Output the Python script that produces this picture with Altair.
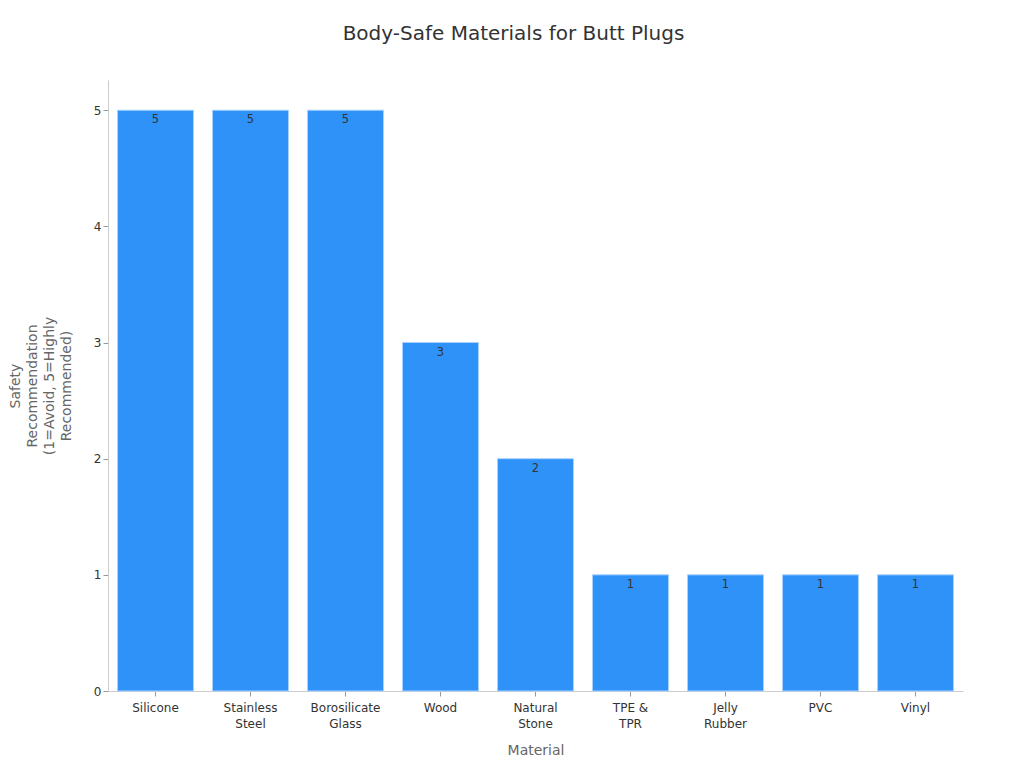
import altair as alt
import pandas as pd

materials = ["Silicone", "Stainless Steel", "Borosilicate Glass", "Wood", "Natural Stone",
             "TPE & TPR", "Jelly Rubber", "PVC", "Vinyl"]
scores = [5, 5, 5, 3, 2, 1, 1, 1, 1]

df = pd.DataFrame({"Material": materials, "Score": scores})

FONT = "DejaVu Sans"

label_expr = ("datum.label == 'TPE & TPR' ? ['TPE &', 'TPR'] : "
              "(indexof(datum.label, ' ') > 0 ? split(datum.label, ' ') : datum.label)")

x = alt.X("Material:N", sort=materials, title="Material",
          scale=alt.Scale(paddingInner=0.2, paddingOuter=0.1),
          axis=alt.Axis(labelAngle=0, labelExpr=label_expr, labelFontSize=12,
                        labelColor="#333333", titleFontSize=14, titleColor="#666666",
                        titleFontWeight="normal", titlePadding=14, labelPadding=6,
                        domainColor="#cccccc", tickColor="#999999", tickSize=5,
                        labelLineHeight=16))
y = alt.Y("Score:Q",
          title=["Safety", "Recommendation", "(1=Avoid, 5=Highly", "Recommended)"],
          scale=alt.Scale(domain=[0, 5.26], nice=False),
          axis=alt.Axis(values=[0, 1, 2, 3, 4, 5], format="d", grid=False, labelFontSize=12,
                        labelColor="#333333", titleFontSize=14, titleColor="#666666",
                        titleFontWeight="normal", titlePadding=20, titleLineHeight=17,
                        domainColor="#cccccc", tickColor="#999999", tickSize=5))

bars = alt.Chart(df).mark_bar(color="#2f92f8", stroke="#a9d1ff", strokeWidth=1).encode(x=x, y=y)
text = alt.Chart(df).mark_text(baseline="top", dy=4, fontSize=11.5, color="#333333", font=FONT).encode(
    x=alt.X("Material:N", sort=materials), y="Score:Q", text="Score:Q")

chart = (bars + text).properties(
    width=855, height=611,
    title=alt.TitleParams("Body-Safe Materials for Butt Plugs", fontSize=20,
                          color="#333333", fontWeight="normal", offset=36, font=FONT, dx=-22),
    padding={"left": 0, "top": 16, "right": 5, "bottom": 5},
).configure(font=FONT).configure_view(stroke=None)

chart.save("out.html", embed_options={"renderer": "svg", "actions": False})
